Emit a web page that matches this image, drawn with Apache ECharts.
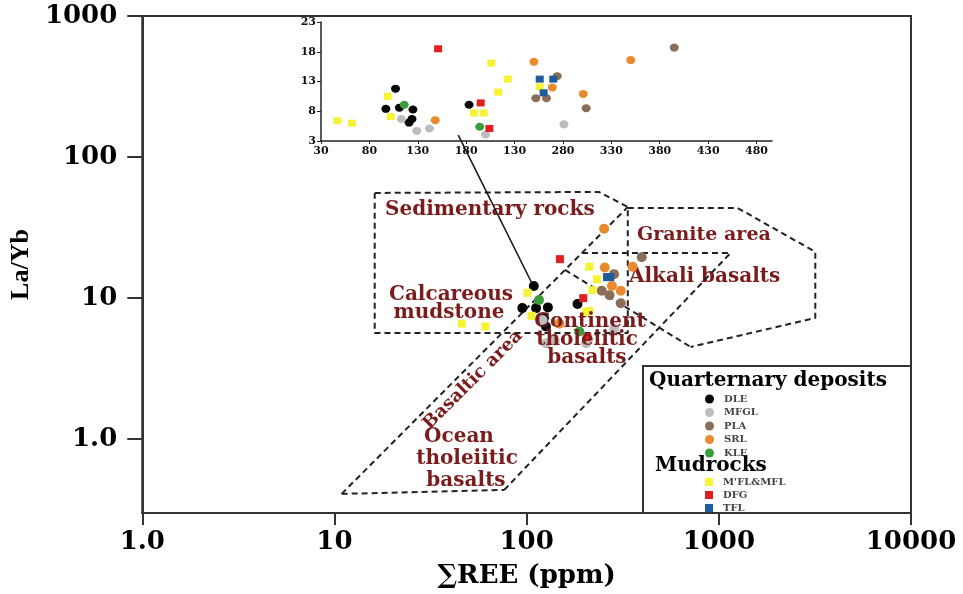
<!DOCTYPE html>
<html><head><meta charset="utf-8">
<script src="https://cdn.jsdelivr.net/npm/echarts@6/dist/echarts.min.js"></script>
<style>html,body{margin:0;padding:0;background:#fff}#c{width:963px;height:594px}</style>
</head><body><div id="c"></div>
<script>
// ---------- tick labels ----------
const mainXTicks = [1, 10, 100, 1000, 10000];
const mainYTicks = [1, 10, 100, 1000];
const insetXTicks = [30, 80, 130, 180, 230, 280, 330, 380, 430, 480];
const insetXLabels = ['30', '80', '130', '180', '130', '280', '330', '380', '430', '480'];
const insetYTicks = [3, 8, 13, 18, 23];

// ---------- categories ----------
const quaternary = ['DLE', 'MFGL', 'PLA', 'SRL', 'KLE'];
const mudrocks = ["M'FL&MFL", 'DFG', 'TFL'];

// ---------- main plot values [ΣREE, La/Yb] ----------
const DLE_main = [[109,12.2],[95,8.5],[112,8.5],[129,8.6],[184,9.1],[126,6.3],[123,7.2]];
const MFGL_main = [[121,7.0],[286,6.1],[126,4.8],[204,4.8],[140,5.0]];
const PLA_main = [[397,19.5],[285,14.8],[246,11.3],[309,9.2],[270,10.5]];
const SRL_main = [[253,31],[255,16.5],[356,16.7],[278,12.2],[309,11.3],[148,6.6]];
const KLE_main = [[116,9.7],[188,5.8]];
const MFL_main = [[212,16.7],[232,13.6],[220,11.4],[101,10.9],[204,8.0],[106,7.5],[46,6.6],[61,6.3],[212,8.1]];
const DFG_main = [[149,18.9],[197,10.0],[207,5.3]];
const TFL_main = [[262,14.1],[272,14.1]];

// ---------- inset values ----------
const DLE_in = [[107,11.8],[97,8.4],[111,8.6],[125,8.3],[124,6.7],[121,6.1],[183,9.1]];
const MFGL_in = [[113,6.7],[129,4.7],[142,5.1],[200,4.1],[281,5.8]];
const PLA_in = [[395,18.7],[274,13.9],[252,10.2],[263,10.2],[304,8.5]];
const SRL_in = [[148,6.5],[250,16.3],[350,16.6],[269,12.0],[301,10.9]];
const KLE_in = [[116,9.1],[194,5.4]];
const MFL_in = [[47,6.4],[62,6.0],[99,10.5],[102,7.1],[206,16.1],[223,13.4],[213,11.2],[188,7.7],[198,7.7],[256,12.1]];
const DFG_in = [[151,18.5],[195,9.4],[204,5.1]];
const TFL_in = [[256,13.4],[270,13.4],[260,11.1]];

// ---------- field boundaries (data coords) ----------
const sedimentaryBox = [[16.2,55.7],[237.8,56.6],[336,44.3],[336,5.67],[16.2,5.67],[16.2,55.7]];
const graniteField = [[336,43.6],[1251,43.6],[3177,21.3],[3177,7.24],[713.6,4.51]];
const alkaliDivider = [[158.4,15.85],[713.6,4.51]];
const basaltLeft = [[10.9,0.41],[336,44.3]];
const basaltBottom = [[10.9,0.41],[76.4,0.437]];
const basaltRight = [[76.4,0.437],[1151,20.9]];
const alkaliTop = [[194,20.9],[1151,20.9]];
const connector = [[44.1,143],[107,12.6]];

const colors = {
  'DLE': '#050505', 'MFGL': '#bdbdbd', 'PLA': '#8b6d58', 'SRL': '#ea8a2e', 'KLE': '#3b9c3b',
  "M'FL&MFL": '#f6f234', 'DFG': '#e21f1f', 'TFL': '#1f5c9c'
};
const mainData = { 'DLE': DLE_main, 'MFGL': MFGL_main, 'PLA': PLA_main, 'SRL': SRL_main, 'KLE': KLE_main,
  "M'FL&MFL": MFL_main, 'DFG': DFG_main, 'TFL': TFL_main };
const insetData = { 'DLE': DLE_in, 'MFGL': MFGL_in, 'PLA': PLA_in, 'SRL': SRL_in, 'KLE': KLE_in,
  "M'FL&MFL": MFL_in, 'DFG': DFG_in, 'TFL': TFL_in };

const serif = 'DejaVu Serif';
const darkRed = '#7b1c1c';
const series = [];

function boundary(data) {
  return { type: 'line', xAxisIndex: 0, yAxisIndex: 0, data: data, symbol: 'none', silent: true,
    lineStyle: { color: '#222', width: 2, type: [6, 4] }, z: 1 };
}
[sedimentaryBox, graniteField, alkaliDivider, basaltLeft, basaltBottom, basaltRight, alkaliTop].forEach(b => series.push(boundary(b)));
series.push({ type: 'line', xAxisIndex: 0, yAxisIndex: 0, data: connector, symbol: 'none', silent: true,
  lineStyle: { color: '#111', width: 1.5 }, z: 6 });

quaternary.concat(mudrocks).forEach(name => {
  const isSq = mudrocks.indexOf(name) >= 0;
  series.push({ name: name, type: 'scatter', xAxisIndex: 0, yAxisIndex: 0, data: mainData[name],
    symbol: isSq ? 'rect' : 'circle', symbolSize: isSq ? 8 : 10, itemStyle: { color: colors[name], opacity: 1 }, z: 3 });
  series.push({ name: name, type: 'scatter', xAxisIndex: 1, yAxisIndex: 1, data: insetData[name],
    symbol: isSq ? 'rect' : 'circle', symbolSize: isSq ? [8, 7] : [9, 8], itemStyle: { color: colors[name], opacity: 1 }, z: 3 });
});

const fmtMain = v => { const r = Math.round(v); return r === 1 ? '1.0' : String(r); };
const axisLine = { show: true, lineStyle: { color: '#333', width: 2 } };
const legendText = { fontFamily: serif, fontWeight: 'bold', fontSize: 10, lineHeight: 12, color: '#444', padding: [0, 0, 0, 5] };

const option = {
  animation: false,
  backgroundColor: '#fff',
  grid: [
    { left: 140, right: 52, top: 16, bottom: 81, show: true, borderColor: '#333', borderWidth: 2 },
    { left: 321, right: 191, top: 22, bottom: 453 }
  ],
  xAxis: [
    { type: 'log', gridIndex: 0, min: 1, max: 10000, axisLine: axisLine,
      axisTick: { show: true, length: 12, lineStyle: { color: '#333', width: 2 }, customValues: mainXTicks },
      axisLabel: { customValues: mainXTicks, formatter: fmtMain, margin: 16, color: '#000',
        fontFamily: serif, fontWeight: 'bold', fontSize: 26 },
      splitLine: { show: false }, minorTick: { show: false },
      name: '\u2211REE (ppm)', nameLocation: 'middle', nameGap: 50,
      nameTextStyle: { fontFamily: serif, fontWeight: 'bold', fontSize: 26, color: '#000' } },
    { type: 'value', gridIndex: 1, min: 30, max: 496, axisLine: { show: true, lineStyle: { color: '#222', width: 1.5 } },
      axisTick: { show: true, length: 3, lineStyle: { color: '#222' }, customValues: insetXTicks },
      axisLabel: { customValues: insetXTicks, margin: 5, color: '#111', fontFamily: serif, fontWeight: 'bold', fontSize: 11,
        formatter: v => { const i = insetXTicks.indexOf(Math.round(v)); return i >= 0 ? insetXLabels[i] : ''; } },
      splitLine: { show: false } }
  ],
  yAxis: [
    { type: 'log', gridIndex: 0, min: 0.3, max: 1000, axisLine: axisLine,
      axisTick: { show: true, length: 15, lineStyle: { color: '#333', width: 2 }, customValues: mainYTicks },
      axisLabel: { customValues: mainYTicks, formatter: fmtMain, margin: 25, color: '#000',
        fontFamily: serif, fontWeight: 'bold', fontSize: 26 },
      splitLine: { show: false }, minorTick: { show: false },
      name: 'La/Yb', nameLocation: 'middle', nameGap: 100, nameRotate: 90,
      nameTextStyle: { fontFamily: 'Liberation Serif', fontWeight: 'bold', fontSize: 26, color: '#000' } },
    { type: 'value', gridIndex: 1, min: 3, max: 23, axisLine: { show: true, lineStyle: { color: '#222', width: 1.5 } },
      axisTick: { show: true, length: 4, lineStyle: { color: '#222' }, customValues: insetYTicks },
      axisLabel: { customValues: insetYTicks, margin: 5, color: '#111', fontFamily: serif, fontWeight: 'bold', fontSize: 11 },
      splitLine: { show: false } }
  ],
  legend: [
    { orient: 'vertical', left: 700, top: 388, itemWidth: 9, itemHeight: 9, itemGap: 1.5, selectedMode: false,
      icon: 'circle', data: quaternary, textStyle: legendText },
    { orient: 'vertical', left: 700, top: 471, itemWidth: 8, itemHeight: 8, itemGap: 1, selectedMode: false,
      icon: 'rect', data: mudrocks, textStyle: legendText }
  ],
  graphic: [
    { type: 'rect', shape: { x: 643, y: 366, width: 268, height: 147 }, style: { fill: 'none', stroke: '#333', lineWidth: 2 }, z: 0 },
    { type: 'text', x: 649, y: 381, style: { text: 'Quarternary deposits', font: 'bold 20px "DejaVu Serif"', fill: '#000', verticalAlign: 'middle' } },
    { type: 'text', x: 655, y: 466, style: { text: 'Mudrocks', font: 'bold 20px "DejaVu Serif"', fill: '#000', verticalAlign: 'middle' } },
    { type: 'text', x: 385, y: 210, style: { text: 'Sedimentary rocks', font: 'bold 20px "DejaVu Serif"', fill: darkRed, verticalAlign: 'middle' } },
    { type: 'text', x: 637, y: 235, style: { text: 'Granite area', font: 'bold 19px "DejaVu Serif"', fill: darkRed, verticalAlign: 'middle' } },
    { type: 'text', x: 629, y: 277, style: { text: 'Alkali basalts', font: 'bold 20px "DejaVu Serif"', fill: darkRed, verticalAlign: 'middle' } },
    { type: 'text', x: 451, y: 295, style: { text: 'Calcareous', font: 'bold 20px "DejaVu Serif"', fill: darkRed, align: 'center', verticalAlign: 'middle' } },
    { type: 'text', x: 449, y: 313, style: { text: 'mudstone', font: 'bold 20px "DejaVu Serif"', fill: darkRed, align: 'center', verticalAlign: 'middle' } },
    { type: 'text', x: 590, y: 322, z: 10, style: { text: 'Continent', font: 'bold 20px "DejaVu Serif"', fill: darkRed, align: 'center', verticalAlign: 'middle' } },
    { type: 'text', x: 587, y: 340, z: 10, style: { text: 'tholeiitic', font: 'bold 20px "DejaVu Serif"', fill: darkRed, align: 'center', verticalAlign: 'middle' } },
    { type: 'text', x: 587, y: 358, z: 10, style: { text: 'basalts', font: 'bold 20px "DejaVu Serif"', fill: darkRed, align: 'center', verticalAlign: 'middle' } },
    { type: 'text', x: 473, y: 380, rotation: Math.PI / 4, style: { text: 'Basaltic area', font: 'bold 18px "DejaVu Serif"', fill: darkRed, align: 'center', verticalAlign: 'middle' } },
    { type: 'text', x: 459, y: 437, style: { text: 'Ocean', font: 'bold 20px "DejaVu Serif"', fill: darkRed, align: 'center', verticalAlign: 'middle' } },
    { type: 'text', x: 467, y: 459, style: { text: 'tholeiitic', font: 'bold 20px "DejaVu Serif"', fill: darkRed, align: 'center', verticalAlign: 'middle' } },
    { type: 'text', x: 466, y: 481, style: { text: 'basalts', font: 'bold 20px "DejaVu Serif"', fill: darkRed, align: 'center', verticalAlign: 'middle' } }
  ],
  series: series
};
const chart = echarts.init(document.getElementById('c'), null, { renderer: 'canvas' });
chart.setOption(option);
</script></body></html>
